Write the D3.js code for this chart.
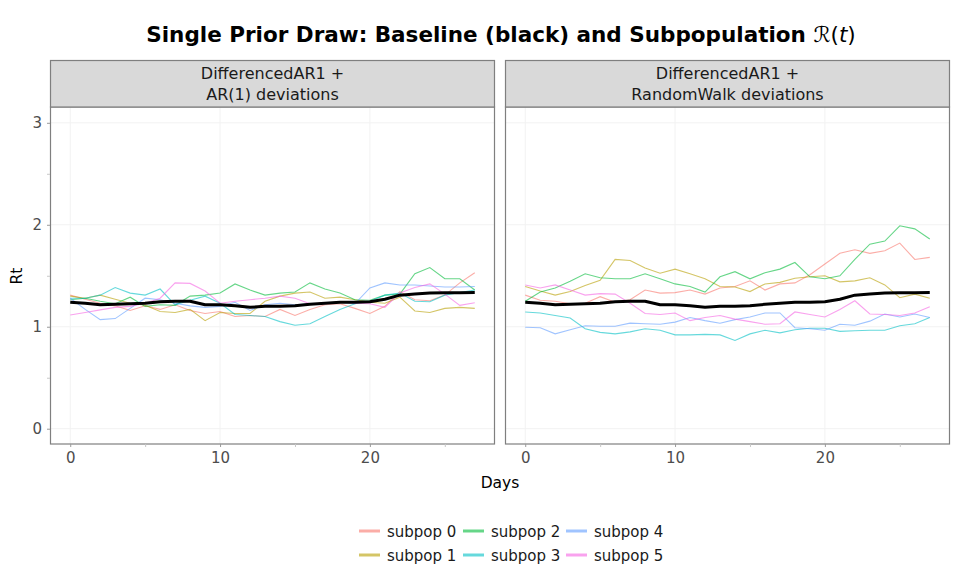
<!DOCTYPE html>
<html>
<head>
<meta charset="utf-8">
<script src="https://cdn.jsdelivr.net/npm/d3@7"></script>
<style>
  body { margin: 0; background: #fff; }
  svg { font-family: "DejaVu Sans", sans-serif; }
</style>
</head>
<body>
<svg id="chart" width="960" height="576"></svg>
<script>
// data
const days = d3.range(0, 28);
const subpops = ["subpop 0", "subpop 1", "subpop 2", "subpop 3", "subpop 4", "subpop 5"];
const colors = ["#F8766D", "#B79F00", "#00BA38", "#00BFC4", "#619CFF", "#F564E3"];
const panelTitles = [
  ["DifferencedAR1 +", "AR(1) deviations"],
  ["DifferencedAR1 +", "RandomWalk deviations"]
];
const xTicks = [0, 10, 20];
const yTicks = [0, 1, 2, 3];

const baseline = [1.24, 1.23, 1.215, 1.22, 1.225, 1.23, 1.245, 1.25, 1.25, 1.215, 1.215, 1.205, 1.19, 1.20,
  1.20, 1.205, 1.22, 1.23, 1.24, 1.24, 1.245, 1.27, 1.31, 1.32, 1.33, 1.333, 1.333, 1.335];

// panel 1: AR(1) deviations
const ar1 = [
  [1.31, 1.27, 1.23, 1.205, 1.16, 1.205, 1.17, 1.215, 1.16, 1.13, 1.15, 1.10, 1.11, 1.10, 1.17, 1.11, 1.17, 1.215, 1.225, 1.18, 1.13, 1.20, 1.345, 1.265, 1.255, 1.31, 1.43, 1.53],
  [1.30, 1.28, 1.31, 1.27, 1.23, 1.21, 1.15, 1.14, 1.17, 1.06, 1.14, 1.13, 1.13, 1.25, 1.30, 1.33, 1.34, 1.28, 1.29, 1.265, 1.24, 1.23, 1.29, 1.155, 1.14, 1.18, 1.19, 1.18],
  [1.265, 1.28, 1.25, 1.225, 1.29, 1.20, 1.215, 1.21, 1.30, 1.31, 1.33, 1.42, 1.36, 1.31, 1.33, 1.34, 1.43, 1.37, 1.33, 1.265, 1.26, 1.31, 1.32, 1.52, 1.58, 1.47, 1.47, 1.36],
  [1.28, 1.28, 1.31, 1.385, 1.33, 1.31, 1.37, 1.215, 1.26, 1.30, 1.23, 1.12, 1.11, 1.10, 1.05, 1.015, 1.03, 1.10, 1.17, 1.225, 1.25, 1.31, 1.33, 1.25, 1.245, 1.31, 1.335, 1.36],
  [1.28, 1.17, 1.07, 1.08, 1.18, 1.28, 1.265, 1.23, 1.205, 1.19, 1.20, 1.24, 1.16, 1.215, 1.23, 1.215, 1.225, 1.23, 1.24, 1.225, 1.38, 1.43, 1.41, 1.41, 1.40, 1.39, 1.39, 1.395],
  [1.115, 1.14, 1.165, 1.19, 1.20, 1.23, 1.28, 1.43, 1.425, 1.35, 1.23, 1.25, 1.265, 1.28, 1.30, 1.28, 1.225, 1.225, 1.245, 1.23, 1.225, 1.19, 1.33, 1.385, 1.42, 1.32, 1.21, 1.235]
];

// panel 2: RandomWalk deviations
const rw = [
  [1.31, 1.26, 1.25, 1.225, 1.23, 1.295, 1.24, 1.265, 1.36, 1.33, 1.335, 1.36, 1.32, 1.38, 1.395, 1.45, 1.36, 1.42, 1.43, 1.51, 1.615, 1.72, 1.755, 1.72, 1.745, 1.82, 1.66, 1.68],
  [1.395, 1.35, 1.31, 1.345, 1.405, 1.455, 1.66, 1.65, 1.575, 1.525, 1.565, 1.52, 1.47, 1.395, 1.39, 1.345, 1.42, 1.435, 1.475, 1.49, 1.50, 1.44, 1.45, 1.48, 1.41, 1.285, 1.32, 1.28],
  [1.25, 1.34, 1.38, 1.445, 1.52, 1.48, 1.47, 1.47, 1.52, 1.47, 1.42, 1.395, 1.34, 1.49, 1.54, 1.47, 1.53, 1.565, 1.63, 1.49, 1.47, 1.50, 1.66, 1.81, 1.84, 1.99, 1.96, 1.86],
  [1.145, 1.135, 1.11, 1.085, 0.98, 0.945, 0.93, 0.95, 0.98, 0.965, 0.92, 0.92, 0.925, 0.92, 0.865, 0.93, 0.965, 0.94, 0.97, 0.985, 0.985, 0.955, 0.96, 0.965, 0.965, 1.01, 1.03, 1.09],
  [0.995, 0.99, 0.93, 0.97, 1.01, 1.005, 1.005, 1.035, 1.03, 1.025, 1.045, 1.09, 1.06, 1.035, 1.07, 1.095, 1.135, 1.135, 0.99, 0.98, 0.965, 1.025, 1.015, 1.055, 1.125, 1.095, 1.125, 1.09],
  [1.41, 1.38, 1.41, 1.36, 1.31, 1.325, 1.32, 1.23, 1.13, 1.12, 1.135, 1.06, 1.09, 1.11, 1.075, 1.05, 1.025, 1.03, 1.145, 1.12, 1.095, 1.17, 1.255, 1.125, 1.12, 1.11, 1.135, 1.195]
];

const panels = [ar1, rw];

/* Set up */
const svg = d3.select("#chart");
const panelW = 445, panelTop = 107, panelBottom = 444, stripH = 47;
const panelX = [50, 505];

const y = d3.scaleLinear().domain([-0.15, 3.155]).range([panelBottom, panelTop]);

const line = (xs) => d3.line()
  .x((d, i) => xs(days[i]))
  .y((d) => y(d));

// title
const title = svg.append("text")
  .attr("x", 501).attr("y", 42)
  .attr("text-anchor", "middle")
  .attr("font-size", 21.5).attr("font-weight", "bold").attr("fill", "#000");
title.append("tspan").text("Single Prior Draw: Baseline (black) and Subpopulation ");
title.append("tspan").attr("font-weight", "normal").attr("font-style", "italic").text("\u211B");
title.append("tspan").attr("font-weight", "normal").text("(");
title.append("tspan").attr("font-weight", "normal").attr("font-style", "italic").text("t");
title.append("tspan").attr("font-weight", "normal").text(")");

panels.forEach((series, p) => {
  const x0 = panelX[p];
  const x = d3.scaleLinear().domain([-1.35, 28.35]).range([x0, x0 + panelW]);
  const g = svg.append("g");

  // grid
  g.selectAll(".gx").data(xTicks).join("line")
    .attr("x1", (d) => x(d)).attr("x2", (d) => x(d))
    .attr("y1", panelTop).attr("y2", panelBottom)
    .attr("stroke", "#F2F2F2").attr("stroke-width", 1);
  g.selectAll(".gy").data(yTicks).join("line")
    .attr("x1", x0).attr("x2", x0 + panelW)
    .attr("y1", (d) => y(d)).attr("y2", (d) => y(d))
    .attr("stroke", "#F2F2F2").attr("stroke-width", 1);

  // subpop lines
  series.forEach((vals, k) => {
    g.append("path")
      .attr("d", line(x)(vals))
      .attr("fill", "none")
      .attr("stroke", colors[k])
      .attr("stroke-opacity", 0.6)
      .attr("stroke-width", 1.1);
  });

  // baseline
  g.append("path")
    .attr("d", line(x)(baseline))
    .attr("fill", "none")
    .attr("stroke", "#000")
    .attr("stroke-width", 3)
    .attr("stroke-linejoin", "round");

  // border
  g.append("rect")
    .attr("x", x0 + 0.5).attr("y", panelTop)
    .attr("width", panelW - 1).attr("height", panelBottom - panelTop)
    .attr("fill", "none").attr("stroke", "#7F7F7F").attr("stroke-width", 1.2);

  // strip
  g.append("rect")
    .attr("x", x0 + 0.5).attr("y", panelTop - stripH + 0.5)
    .attr("width", panelW - 1).attr("height", stripH - 0.5)
    .attr("fill", "#D9D9D9").attr("stroke", "#7F7F7F").attr("stroke-width", 1.2);
  g.selectAll(".strip").data(panelTitles[p]).join("text")
    .attr("x", x0 + panelW / 2)
    .attr("y", (d, i) => 79 + i * 21)
    .attr("text-anchor", "middle")
    .attr("font-size", 16).attr("fill", "#1A1A1A")
    .text((d) => d);

  // x axis
  const xAxis = d3.axisBottom(x).tickValues([0, 5, 10, 15, 20, 25])
    .tickSize(3).tickPadding(5)
    .tickFormat((d) => (d % 10 === 0 ? d : ""));
  const ax = g.append("g").attr("transform", `translate(0,${panelBottom})`).call(xAxis);
  ax.select(".domain").remove();
  ax.selectAll(".tick line").attr("stroke", (d) => (d % 10 === 0 ? "#9A9A9A" : "#C8C8C8"));
  ax.selectAll(".tick text").attr("font-size", 15).attr("fill", "#4D4D4D")
    .attr("font-family", "DejaVu Sans, sans-serif");

  if (p === 0) {
    const yAxis = d3.axisLeft(y).tickValues([0, 0.5, 1, 1.5, 2, 2.5, 3])
      .tickSize(3).tickPadding(5)
      .tickFormat((d) => (Number.isInteger(d) ? d : ""));
    const ay = g.append("g").attr("transform", `translate(${x0},0)`).call(yAxis);
    ay.select(".domain").remove();
    ay.selectAll(".tick line").attr("stroke", (d) => (Number.isInteger(d) ? "#9A9A9A" : "#C8C8C8"));
    ay.selectAll(".tick text").attr("font-size", 15).attr("fill", "#4D4D4D")
      .attr("font-family", "DejaVu Sans, sans-serif");
  }
});

// axis titles
svg.append("text")
  .attr("x", 500).attr("y", 488)
  .attr("text-anchor", "middle")
  .attr("font-size", 15.5).attr("fill", "#000")
  .text("Days");
svg.append("text")
  .attr("transform", "translate(22,276) rotate(-90)")
  .attr("text-anchor", "middle")
  .attr("font-size", 15.5).attr("fill", "#000")
  .text("Rt");

// legend
const legCols = [359, 463, 566];
const legRows = [531, 555];
const leg = svg.append("g");
subpops.forEach((name, k) => {
  const col = Math.floor(k / 2), row = k % 2;
  const lx = legCols[col], ly = legRows[row];
  leg.append("line")
    .attr("x1", lx).attr("x2", lx + 21)
    .attr("y1", ly).attr("y2", ly)
    .attr("stroke", colors[k]).attr("stroke-opacity", 0.6)
    .attr("stroke-width", 3);
  leg.append("text")
    .attr("x", lx + 28).attr("y", ly + 5.5)
    .attr("font-size", 15).attr("fill", "#1A1A1A")
    .text(name);
});
</script>
</body>
</html>
